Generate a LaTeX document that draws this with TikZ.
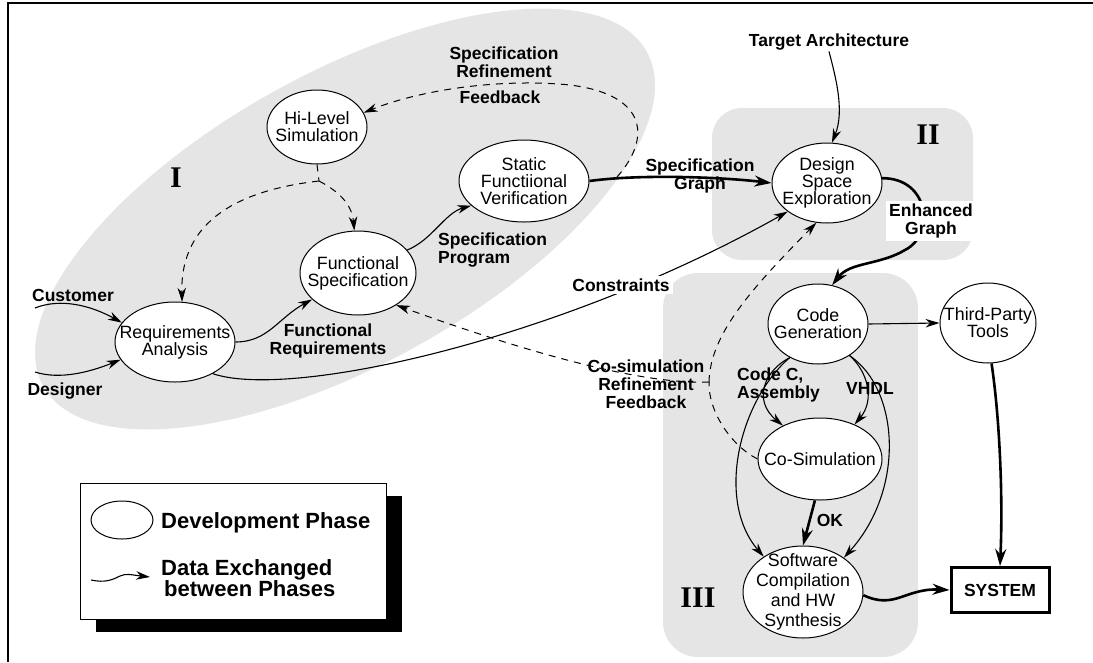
\documentclass[tikz,border=0pt]{standalone}
\usepackage{fontspec}
\setmainfont{Liberation Sans}
\newfontfamily\romanfont{Liberation Serif}
\usetikzlibrary{arrows.meta,shapes.geometric}
\begin{document}
\begin{tikzpicture}[x=1pt,y=-1pt,
  region/.style={fill=black!10},
  phase/.style={draw, ellipse, fill=white, line width=1pt, inner sep=0pt},
  ptext/.style={font=\fontsize{17.8}{17}\selectfont, align=center, inner sep=0pt},
  lbl/.style={font=\bfseries\fontsize{17.5}{18}\selectfont, align=center, inner sep=1pt},
  roman/.style={font=\romanfont\bfseries\fontsize{30}{30}\selectfont},
  flow/.style={line width=1.1pt, -{Stealth[length=14pt,width=8.5pt]}},
  bigflow/.style={line width=2.6pt, -{Stealth[length=17pt,width=11pt]}},
  fback/.style={line width=1pt, dash pattern=on 7pt off 6pt, -{Stealth[length=14pt,width=8.5pt]}},
  fbline/.style={line width=1pt, dash pattern=on 7pt off 6pt},
]
\useasboundingbox (0,0) rectangle (1093,662);
% regions
\fill[region, rotate around={29:(345,219)}] (345,219) ellipse [x radius=345, y radius=146];
\fill[region, rounded corners=30pt] (712,108) rectangle (973,260);
\fill[region, rounded corners=35pt] (663,273) rectangle (918,657);
% frame
\draw[line width=2.5pt] (8,662) -- (8,3) -- (1093,3);
% roman numerals
\node[roman] (rI) at (176,178) {I};
\node[roman] (rII) at (928,135) {II};
\node[roman] (rIII) at (698,598) {III};
% phases
\node[phase, minimum width=100pt, minimum height=74pt, label={[ptext]center:Hi-Level\\Simulation}] (hls) at (317,127) {};
\node[phase, minimum width=130pt, minimum height=82pt, label={[ptext]center:Static\\Functiional\\Verification}] (sfv) at (524,181) {};
\node[phase, minimum width=116pt, minimum height=84pt, label={[ptext]center:Functional\\Specification}] (fs) at (358,273) {};
\node[phase, minimum width=120pt, minimum height=80pt, label={[ptext]center:Requirements\\Analysis}] (ra) at (175,342) {};
\node[phase, minimum width=110pt, minimum height=80pt, label={[ptext]center:Design\\Space\\Exploration}] (dse) at (827,183) {};
\node[phase, minimum width=100pt, minimum height=80pt, label={[ptext]center:Code\\Generation}] (cg) at (818,324) {};
\node[phase, minimum width=96pt, minimum height=80pt, label={[ptext]center:Third-Party\\Tools}] (tpt) at (988,323) {};
\node[phase, minimum width=124pt, minimum height=82pt, label={[ptext]center:Co-Simulation}] (cs) at (820,459) {};
\node[phase, minimum width=120pt, minimum height=92pt, label={[ptext, font=\fontsize{17.8}{20}\selectfont]center:Software\\Compilation\\and HW\\Synthesis}] (swc) at (803,592) {};
\node[draw, fill=white, line width=3pt, minimum width=98pt, minimum height=45pt, inner sep=0pt, font=\bfseries\fontsize{17.5}{18}\selectfont] (sys) at (1000,590) {SYSTEM};
% labels
\node[lbl] (tarch) at (829,42) {Target Architecture};
\node[lbl] (cust) at (73,295) {Customer};
\node[lbl] (desg) at (65,391) {Designer};
\node[lbl] (srf1) at (504,62) {Specification\\Refinement};
\node[lbl] (srf2) at (500,97) {Feedback};
\node[lbl] (sg) at (700,176) {Specification\\Graph};
\node[lbl, align=left, anchor=west] (sp) at (437,250) {Specification\\Program};
\node[lbl] (freq) at (328,341) {Functional\\Requirements};
\node[lbl, align=left, anchor=west] (ccasm) at (736,385) {Code C,\\Assembly};
\node[lbl] (vhdl) at (870,388) {VHDL};
\node[lbl] (ok) at (830,520) {OK};
\node[lbl] (csrf) at (646,384) {Co-simulation\\Refinement\\Feedback};
% coordinates
\coordinate (custin) at (35,308);
\coordinate (desin) at (35,372);
\coordinate (sgj) at (617,177);
\coordinate (j1) at (709,382);
\coordinate (j2) at (319,181);
% connectors
\draw[flow] (custin) .. controls (60,298) and (90,305) .. (ra.160);
\draw[flow] (desin) .. controls (60,380) and (90,372) .. (ra.198);
\draw[flow] (ra.east) .. controls (268,342) and (278,318) .. (fs.210);
\draw[flow] (ra.-40) .. controls (290,400) and (560,340) .. (dse.216);
\draw[flow] (fs.25) .. controls (432,240) and (445,213) .. (sfv.205);
\draw[bigflow] (sfv.east) .. controls (640,174) and (720,177) .. (dse.west);
\draw[flow] (tarch.south) .. controls (835,75) and (845,110) .. (dse.83);
\draw[bigflow] (dse.5) .. controls (930,178) and (935,235) .. (905,250) .. controls (880,265) and (850,262) .. (cg.70);
\draw[flow] (cg.east) -- (tpt.west);
\draw[bigflow] (tpt.-85) .. controls (1000,420) and (1003,500) .. (sys.north);
\draw[bigflow] (swc.-3) .. controls (895,610) and (905,588) .. (sys.west);
\draw[flow] (cg.230) .. controls (765,370) and (752,400) .. (cs.138);
\draw[flow] (cg.230) .. controls (740,400) and (715,500) .. (swc.138);
\draw[flow] (cg.-45) .. controls (868,372) and (875,400) .. (cs.45);
\draw[flow] (cg.-45) .. controls (900,390) and (905,490) .. (swc.40);
\draw[bigflow] (cs.-97) -- (swc.north);
\draw[fbline] (cs.west) .. controls (730,445) and (708,410) .. (j1);
\draw[fback] (j1) .. controls (710,335) and (750,290) .. (dse.255);
\draw[fback] (j1) .. controls (640,385) and (520,350) .. (fs.-40);
\draw[fbline] (hls.south) -- (j2);
\draw[fback] (j2) .. controls (340,192) and (352,205) .. (fs.95);
\draw[fback] (j2) .. controls (240,190) and (180,220) .. (ra.80);
\draw[fback] (sgj) .. controls (650,140) and (650,95) .. (570,85) .. controls (500,78) and (420,90) .. (hls.17);
% white labels over lines
\node[lbl, fill=white, inner sep=3pt] (cons) at (621,285) {Constraints};
\node[lbl, fill=white, inner sep=3pt] (eg) at (931,221) {Enhanced\\Graph};
% legend
\fill (96,496) rectangle (402,632);
\draw[fill=white, line width=1pt] (80,483) rectangle (386,619);
\node[phase, minimum width=62pt, minimum height=38pt] (lgell) at (122,520) {};
\node[lbl, font=\bfseries\fontsize{22}{20}\selectfont, anchor=west] (lgdev) at (160,523) {Development Phase};
\node[lbl, font=\bfseries\fontsize{22}{20}\selectfont, anchor=west, align=left] (lgdata) at (160,578) {Data Exchanged\\\hspace{3pt}between Phases};
\coordinate (lga) at (91,580);
\coordinate (lgb) at (150,577);
\draw[flow] (lga) .. controls (105,583) and (112,580) .. (120,576) .. controls (126,573) and (132,575) .. (lgb);
\end{tikzpicture}
\end{document}
